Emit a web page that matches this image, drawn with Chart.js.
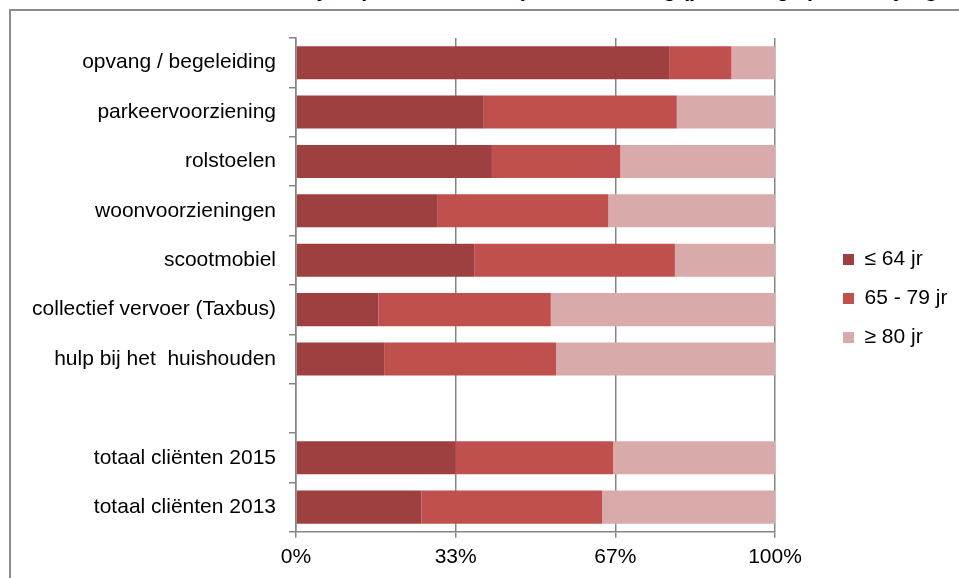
<!DOCTYPE html>
<html>
<head>
<meta charset="utf-8">
<script src="https://cdn.jsdelivr.net/npm/chart.js@4.4.1/dist/chart.umd.min.js"></script>
<style>
  html, body { margin: 0; padding: 0; background: #fff; overflow: hidden; }
  #wrap { position: relative; width: 959px; height: 578px; overflow: hidden; }
  #title { position: absolute; left: 262px; top: -23px; white-space: nowrap; font: bold 21px 'Liberation Sans', Arial, sans-serif; line-height: 25px; color: #000; }
  #frame { position: absolute; left: 9px; top: 9px; width: 1000px; height: 700px; border: 2px solid #8c8c8c; box-sizing: border-box; }
  canvas { position: absolute; left: 0; top: 0; }
</style>
</head>
<body>
<div id="wrap">
  <div id="title">Leeftijdsopbouw cliënten per voorziening (percentage per leeftijdsgroep)</div>
  <div id="frame"></div>
  <canvas id="myChart" width="959" height="578"></canvas>
</div>
<script>
const categories = [
  'opvang / begeleiding',
  'parkeervoorziening',
  'rolstoelen',
  'woonvoorzieningen',
  'scootmobiel',
  'collectief vervoer (Taxbus)',
  'hulp bij het  huishouden',
  '',
  'totaal cliënten 2015',
  'totaal cliënten 2013'
];

const upTo64 = [77.9, 39.2, 40.9, 29.6, 37.2, 17.2, 18.4, null, 33.3, 26.2];
const from65to79 = [13.0, 40.3, 26.8, 35.6, 41.9, 36.0, 35.9, null, 32.9, 37.7];
const from80 = [9.1, 20.5, 32.3, 34.8, 20.9, 46.8, 45.7, null, 33.8, 36.1];

const xTickValues = [0, 100 / 3, 200 / 3, 100];
const xTickLabels = ['0%', '33%', '67%', '100%'];

const font = { family: "'Liberation Sans', Arial, sans-serif", size: 21 };
const axisGrey = '#868686';

// legend sits well right of the plot, so widen its box and push the items over
const legendShift = {
  id: 'legendShift',
  beforeInit(chart) {
    const fit = chart.legend.fit;
    chart.legend.fit = function () {
      fit.call(this);
      this.width = 184;
    };
  },
  afterLayout(chart) {
    chart.legend.left += 50;
    chart.legend.top -= 9;
    chart.legend.bottom -= 9;
  }
};

const ctx = document.getElementById('myChart').getContext('2d');
const data = {
  labels: categories,
  datasets: [{
    label: '≤ 64 jr',
    data: upTo64,
    backgroundColor: '#9D403F'
  }, {
    label: '65 - 79 jr',
    data: from65to79,
    backgroundColor: '#C0504D'
  }, {
    label: '≥ 80 jr',
    data: from80,
    backgroundColor: '#D9AAAA'
  }]
};

const config = {
  type: 'bar',
  data: data,
  plugins: [legendShift],
  options: {
    indexAxis: 'y',
    responsive: false,
    animation: false,
    categoryPercentage: 1,
    barPercentage: 0.67,
    layout: {
      padding: { top: 38, bottom: 1, left: 0, right: 0 }
    },
    scales: {
      x: {
        stacked: true,
        min: 0,
        max: 100,
        afterBuildTicks: function (scale) {
          scale.ticks = xTickValues.map(v => ({ value: v }));
        },
        ticks: {
          autoSkip: false,
          maxRotation: 0,
          padding: 7,
          font: font,
          color: '#000',
          callback: function (value, index) { return xTickLabels[index]; }
        },
        grid: {
          color: axisGrey,
          lineWidth: 1.5,
          drawTicks: true,
          tickLength: 6
        },
        border: { color: axisGrey, width: 1.5 }
      },
      y: {
        stacked: true,
        afterFit: function (scale) { scale.width = 296; },
        ticks: {
          autoSkip: false,
          padding: 13,
          font: font,
          color: '#000'
        },
        grid: {
          drawOnChartArea: false,
          color: axisGrey,
          lineWidth: 1.5,
          tickLength: 7
        },
        border: { color: axisGrey, width: 1.5 }
      }
    },
    plugins: {
      legend: {
        position: 'right',
        align: 'center',
        labels: {
          boxWidth: 11,
          boxHeight: 11,
          padding: 18,
          font: font,
          color: '#000'
        }
      },
      tooltip: { enabled: false }
    }
  }
};

const myChart = new Chart(ctx, config);
</script>
</body>
</html>
